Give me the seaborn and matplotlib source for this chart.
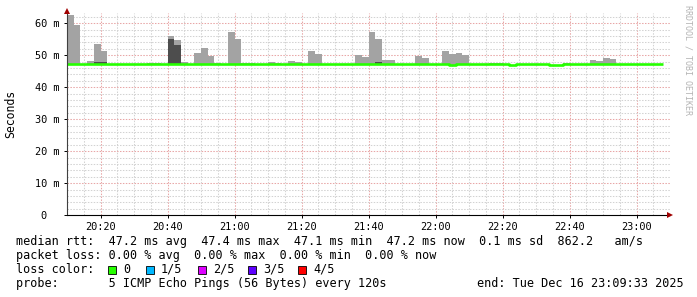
import numpy as np
import pandas as pd
import matplotlib
matplotlib.use("Agg")
import matplotlib.pyplot as plt
from matplotlib.patches import Rectangle
import seaborn as sns

# ---------------- data ----------------
slot_minutes = 2                      # one RRD step = 120 s
window_minutes = 180                  # 20:10 .. 23:10
nan = np.nan

median_ms = [47.2] * 89
for i in (29, 42, 55):
    median_ms[i] = 47.4
for i in (57, 66, 72, 73):
    median_ms[i] = 46.9

smoke_max_ms = [nan] * 89
smoke_max_ms[0] = 62.6
smoke_max_ms[1] = 59.5
smoke_max_ms[3] = 48.2
smoke_max_ms[4] = 53.5
smoke_max_ms[5] = 51.3
smoke_max_ms[12] = 47.7
smoke_max_ms[13] = 47.7
smoke_max_ms[15] = 56.0
smoke_max_ms[16] = 54.8
smoke_max_ms[17] = 47.9
smoke_max_ms[19] = 50.7
smoke_max_ms[20] = 52.3
smoke_max_ms[21] = 49.8
smoke_max_ms[22] = 47.6
smoke_max_ms[24] = 57.3
smoke_max_ms[25] = 55.1
smoke_max_ms[26] = 47.6
smoke_max_ms[27] = 47.6
smoke_max_ms[30] = 47.9
smoke_max_ms[31] = 47.6
smoke_max_ms[33] = 48.2
smoke_max_ms[34] = 47.9
smoke_max_ms[36] = 51.3
smoke_max_ms[37] = 50.4
smoke_max_ms[43] = 50.1
smoke_max_ms[44] = 49.5
smoke_max_ms[45] = 57.3
smoke_max_ms[46] = 55.1
smoke_max_ms[47] = 48.5
smoke_max_ms[48] = 48.5
smoke_max_ms[52] = 49.8
smoke_max_ms[53] = 49.2
smoke_max_ms[56] = 51.3
smoke_max_ms[57] = 50.4
smoke_max_ms[58] = 50.7
smoke_max_ms[59] = 50.1
smoke_max_ms[63] = 47.6
smoke_max_ms[64] = 47.6
smoke_max_ms[74] = 47.6
smoke_max_ms[78] = 48.5
smoke_max_ms[79] = 48.2
smoke_max_ms[80] = 49.2
smoke_max_ms[81] = 48.9

smoke_dark_ms = [nan] * 89
smoke_dark_ms[4] = 48.0
smoke_dark_ms[5] = 47.8
smoke_dark_ms[15] = 55.1
smoke_dark_ms[16] = 53.2
smoke_dark_ms[46] = 47.9

xtick_minutes = [10, 30, 50, 70, 90, 110, 130, 150, 170]
xtick_labels = ["20:20", "20:40", "21:00", "21:20", "21:40",
                "22:00", "22:20", "22:40", "23:00"]
ytick_values = [0, 10, 20, 30, 40, 50, 60]
ytick_labels = ["0  ", "10 m", "20 m", "30 m", "40 m", "50 m", "60 m"]

legend_line_rtt = ("median rtt:  47.2 ms avg  47.4 ms max  47.1 ms min  "
                   "47.2 ms now  0.1 ms sd  862.2   am/s")
legend_line_loss = "packet loss: 0.00 % avg  0.00 % max  0.00 % min  0.00 % now"
legend_line_color = "loss color:"
legend_line_probe = "probe:       5 ICMP Echo Pings (56 Bytes) every 120s"
legend_end = "end: Tue Dec 16 23:09:33 2025"
loss_labels = ["0", "1/5", "2/5", "3/5", "4/5"]
loss_colors = ["#26ff00", "#00b8ff", "#dd00ff", "#5e00ff", "#ff0000"]
loss_box_x = [108, 146, 198, 248, 298]

# ---------------- figure ----------------
sns.set_style("white")
plt.rcParams["font.family"] = ["DejaVu Sans Mono"]

W, H = 697, 297
fig = plt.figure(figsize=(W / 100, H / 100), dpi=100)
fig.patch.set_facecolor("white")

ax_left, ax_right, ax_bottom, ax_top = 67, 670, 215.3, 13
ax = fig.add_axes([ax_left / W, (H - ax_bottom) / H,
                   (ax_right - ax_left) / W, (ax_bottom - ax_top) / H])
ax.set_facecolor("white")

n = len(median_ms)
starts = np.arange(n) * slot_minutes
med = np.array(median_ms)
smax = np.array(smoke_max_ms)
sdark = np.array(smoke_dark_ms)

# smoke (light)
m = ~np.isnan(smax)
ax.bar(starts[m], smax[m] - med[m], bottom=med[m], width=slot_minutes,
       align="edge", color="#a3a3a3", linewidth=0, zorder=3)
# smoke (dark)
m = ~np.isnan(sdark)
ax.bar(starts[m], sdark[m] - med[m], bottom=med[m], width=slot_minutes,
       align="edge", color="#4d4d4d", linewidth=0, zorder=4)

# median line (stepped)
df = pd.DataFrame({"t": np.append(starts, n * slot_minutes),
                   "ms": np.append(med, med[-1])})
sns.lineplot(data=df, x="t", y="ms", ax=ax, estimator=None,
             drawstyle="steps-post", color="#26ff00", linewidth=1.9,
             solid_capstyle="butt", zorder=5)

ax.set_xlim(0, window_minutes)
ax.set_ylim(0, 63.2)

# grid
for xm in range(5, window_minutes, 5):
    if xm in xtick_minutes:
        ax.axvline(xm, color="#e8a6a6", lw=0.75, ls=(0, (1.4, 1.4)), zorder=1)
    else:
        ax.axvline(xm, color="#d2d2d2", lw=0.75, ls=(0, (1.4, 1.4)), zorder=1)
for ym in np.arange(2, 63, 2):
    if ym % 10 == 0:
        ax.axhline(ym, color="#e8a6a6", lw=0.75, ls=(0, (1.4, 1.4)), zorder=1)
    else:
        ax.axhline(ym, color="#d2d2d2", lw=0.75, ls=(0, (1.4, 1.4)), zorder=1)

ax.set_xticks(xtick_minutes)
ax.set_xticklabels(xtick_labels)
ax.set_yticks(ytick_values)
ax.set_yticklabels(ytick_labels)
ax.tick_params(axis="x", length=2, width=0.7, pad=2.5, labelsize=7.4,
               colors="black", direction="out", bottom=True)
ax.tick_params(axis="y", length=2, width=0.7, pad=3.5, labelsize=7.4,
               colors="black", direction="out", left=True)
ax.set_xlabel("")
ax.set_ylabel("")

for s in ("top", "right"):
    ax.spines[s].set_visible(False)
ax.spines["left"].set_color("#404040")
ax.spines["bottom"].set_color("black")
ax.spines["left"].set_linewidth(0.8)
ax.spines["bottom"].set_linewidth(0.8)
ax.spines["left"].set_zorder(6)
ax.spines["bottom"].set_zorder(6)

# axis arrows
ax.plot([0], [1.012], marker="^", markersize=4, color="#a00000",
        transform=ax.transAxes, clip_on=False, zorder=7,
        markeredgewidth=0)
ax.plot([1.0], [0], marker=">", markersize=4, color="#a00000",
        transform=ax.transAxes, clip_on=False, zorder=7,
        markeredgewidth=0)

# y label and watermark
fig.text(11 / W, 1 - 114 / H, "Seconds", rotation=90, ha="center",
         va="center", fontsize=8.3, color="black")
fig.text(688 / W, 1 - 60 / H, "RRDTOOL / TOBI OETIKER", rotation=270,
         ha="center", va="center", fontsize=6, color="#b4b4b4")

# legend text
fs = 8.5
fig.text(16 / W, 1 - 245 / H, legend_line_rtt, ha="left", va="baseline",
         fontsize=fs, color="black")
fig.text(16 / W, 1 - 259 / H, legend_line_loss, ha="left", va="baseline",
         fontsize=fs, color="black")
fig.text(16 / W, 1 - 273 / H, legend_line_color, ha="left", va="baseline",
         fontsize=fs, color="black")
fig.text(16 / W, 1 - 287.3 / H, legend_line_probe, ha="left",
         va="baseline", fontsize=fs, color="black")
fig.text(477 / W, 1 - 287.3 / H, legend_end, ha="left", va="baseline",
         fontsize=fs, color="black")

for xb, lab, col in zip(loss_box_x, loss_labels, loss_colors):
    fig.patches.append(Rectangle((xb / W, 1 - 273.5 / H), 8 / W, 8 / H,
                                 transform=fig.transFigure,
                                 facecolor=col, edgecolor="black",
                                 linewidth=0.6))
    fig.text((xb + 15) / W, 1 - 273 / H, lab, ha="left", va="baseline",
             fontsize=fs, color="black")

fig.savefig("out.png", dpi=100, facecolor="white")
